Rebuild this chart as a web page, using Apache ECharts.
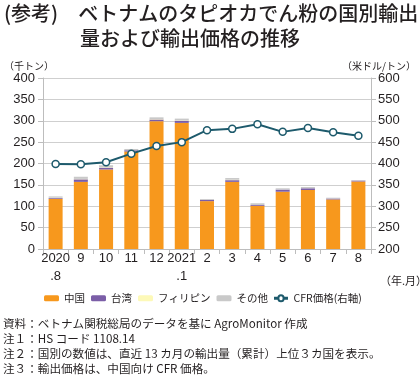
<!DOCTYPE html>
<html><head><meta charset="utf-8">
<script src="https://cdn.jsdelivr.net/npm/echarts@6/dist/echarts.min.js"></script>
<style>html,body{margin:0;padding:0;background:#fff}#c{width:420px;height:381px}</style>
</head><body><div id="c"></div>
<script>
const categories = ['2020\n.8','9','10','11','12','2021\n.1','2','3','4','5','6','7','8'];
const china = [117,157,186,228,299,295,112,157,101,134,138,116,158];
const taiwan = [2,6,4,3,4,5,3,4,2,5,4,2,2];
const philippines = [1,1,1,0,1,1,0,1,0,0,0,0,0];
const others = [3,5,5,3,4,4,2,4,4,3,3,2,1];
const cfrPrice = [399,398,403,423,441,450,478,481,492,474,483,473,465];
const leftTicks = [0,400,50];
const rightTicks = [200,600,50];

const FONT = '"Noto Sans CJK JP","Noto Sans",sans-serif';
const NUMFONT = '"Liberation Sans","Noto Sans CJK JP",sans-serif';
const chart = echarts.init(document.getElementById('c'), null, {renderer:'canvas'});
const barW = 14;
chart.setOption({
  animation:false,
  textStyle:{fontFamily:FONT},
  grid:{left:43,right:49,top:78,bottom:132},
  legend:{
    top:293,left:44,itemGap:6,itemWidth:15,itemHeight:6,padding:0,
    textStyle:{fontFamily:FONT,fontSize:10.5,color:'#231f20'},
    data:[{name:'中国'},{name:'台湾'},{name:'フィリピン'},{name:'その他'},
      {name:'CFR価格(右軸)',icon:'path://M0,5 L4,5 A3,3 0 1 1 10,5 L14,5 L14,6 L10,6 A3,3 0 1 1 4,6 L0,6 Z'}]
  },
  xAxis:{type:'category',data:categories,
    axisLine:{lineStyle:{color:'#bdbdbd'}},
    axisTick:{show:true,alignWithLabel:false,lineStyle:{color:'#bdbdbd'}},
    axisLabel:{color:'#231f20',fontSize:13,lineHeight:18,margin:0,interval:0,fontFamily:NUMFONT}},
  yAxis:[
    {type:'value',min:leftTicks[0],max:leftTicks[1],interval:leftTicks[2],
     axisLine:{show:true,lineStyle:{color:'#bdbdbd'}},
     axisTick:{show:true,lineStyle:{color:'#bdbdbd'}},
     splitLine:{lineStyle:{color:'#cfcfcf'}},
     axisLabel:{color:'#231f20',fontSize:13,margin:8,fontFamily:NUMFONT}},
    {type:'value',min:rightTicks[0],max:rightTicks[1],interval:rightTicks[2],
     axisLine:{show:true,lineStyle:{color:'#bdbdbd'}},
     axisTick:{show:true,lineStyle:{color:'#bdbdbd'}},
     splitLine:{show:false},
     axisLabel:{color:'#231f20',fontSize:13,margin:7,fontFamily:NUMFONT}}
  ],
  series:[
    {name:'中国',type:'bar',stack:'s',data:china,barWidth:barW,itemStyle:{color:'#f7981d'}},
    {name:'台湾',type:'bar',stack:'s',data:taiwan,barWidth:barW,itemStyle:{color:'#7b5ea7'}},
    {name:'フィリピン',type:'bar',stack:'s',data:philippines,barWidth:barW,itemStyle:{color:'#fdf9b8'}},
    {name:'その他',type:'bar',stack:'s',data:others,barWidth:barW,itemStyle:{color:'#c9c9c9'}},
    {name:'CFR価格(右軸)',type:'line',yAxisIndex:1,data:cfrPrice,symbol:'circle',symbolSize:7,
     lineStyle:{color:'#1d5a6c',width:2},itemStyle:{color:'#fff',borderColor:'#1d5a6c',borderWidth:1.5}}
  ],
  graphic:[
    {type:'text',left:4,top:3,style:{text:'(参考)　ベトナムのタピオカでん粉の国別輸出',font:'500 20px '+FONT,fill:'#231f20'}},
    {type:'text',left:80,top:28,style:{text:'量および輸出価格の推移',font:'500 20px '+FONT,fill:'#231f20'}},
    {type:'text',left:4,top:61,style:{text:'（千トン）',font:'10px '+FONT,fill:'#231f20'}},
    {type:'text',right:4,top:61,style:{text:'（米ドル/トン）',font:'10px '+FONT,fill:'#231f20'}},
    {type:'text',left:380,top:275,style:{text:'（年.月）',font:'11px '+FONT,fill:'#231f20'}},
    {type:'text',left:3,top:318,style:{text:'資料：ベトナム関税総局のデータを基に AgroMonitor 作成',font:'11.6px '+FONT,fill:'#231f20'}},
    {type:'text',left:3,top:333,style:{text:'注１：HS コード 1108.14',font:'11.6px '+FONT,fill:'#231f20'}},
    {type:'text',left:3,top:348,style:{text:'注２：国別の数値は、直近 13 カ月の輸出量（累計）上位３カ国を表示。',font:'11.6px '+FONT,fill:'#231f20'}},
    {type:'text',left:3,top:363,style:{text:'注３：輸出価格は、中国向け CFR 価格。',font:'11.6px '+FONT,fill:'#231f20'}}
  ]
});
</script></body></html>
